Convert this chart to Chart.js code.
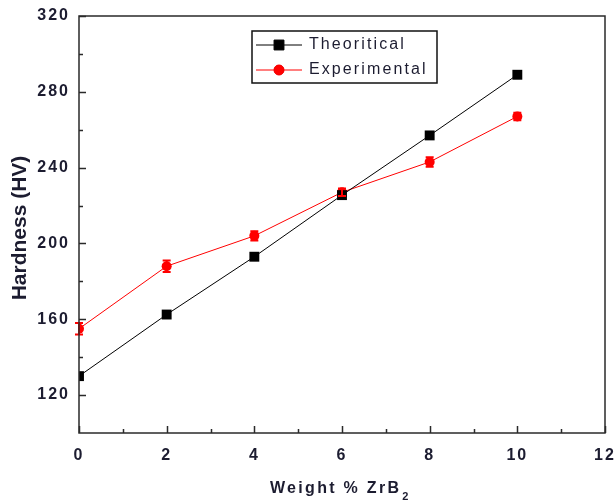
<!DOCTYPE html>
<html>
<head>
<meta charset="utf-8">
<script src="https://cdn.jsdelivr.net/npm/chart.js@4.4.1/dist/chart.umd.min.js"></script>
<style>
  html, body { margin: 0; padding: 0; background: #fff; }
  #wrap { width: 616px; height: 502px; }
</style>
</head>
<body>
<div id="wrap"><canvas id="canvas1" width="616" height="502"></canvas></div>
<script>
// weight % ZrB2
const wtPercent = [0, 2, 4, 6, 8, 10];
// hardness (HV)
const theoritical = [130, 162.5, 193, 225.5, 257, 289];
const experimental = [155, 188, 204, 227, 243, 267];
const experimentalErr = [3, 3, 2.5, 2, 2.5, 2];

const xTicks = [0, 2, 4, 6, 8, 10, 12];
const xMinor = [1, 3, 5, 7, 9, 11];
const yTicks = [120, 160, 200, 240, 280, 320];
const yMinor = [140, 180, 220, 260, 300];

const textColor = '#1c1c30';
const axisColor = '#2a2a2a';
const fontFam = '"Liberation Sans", Arial, sans-serif';

// ticks pointing inward, frame, error bars, legend box and axis titles
const frame = {
    id: 'frame',
    beforeDraw(chart) {
        // wide spacing on tick labels
        chart.ctx.letterSpacing = '2px';
    },
    afterDatasetsDraw(chart) {
        const ctx = chart.ctx;
        const xs = chart.scales.x, ys = chart.scales.y;

        // error bars on the experimental points
        ctx.save();
        ctx.strokeStyle = 'red';
        ctx.lineWidth = 2;
        experimental.forEach((v, i) => {
            const px = xs.getPixelForValue(wtPercent[i]);
            const top = ys.getPixelForValue(v + experimentalErr[i]);
            const bot = ys.getPixelForValue(v - experimentalErr[i]);
            ctx.beginPath();
            ctx.moveTo(px, top); ctx.lineTo(px, bot);
            ctx.moveTo(px - 4, top); ctx.lineTo(px + 4, top);
            ctx.moveTo(px - 4, bot); ctx.lineTo(px + 4, bot);
            ctx.stroke();
        });
        ctx.restore();
    },
    afterDraw(chart) {
        const ctx = chart.ctx;
        const xs = chart.scales.x, ys = chart.scales.y;
        const a = chart.chartArea;

        ctx.save();
        ctx.letterSpacing = '0px';
        ctx.strokeStyle = axisColor;
        ctx.lineWidth = 1.5;
        ctx.strokeRect(a.left, a.top, a.right - a.left, a.bottom - a.top);

        ctx.beginPath();
        xTicks.forEach(v => {
            const px = Math.round(xs.getPixelForValue(v)) + 0.5;
            ctx.moveTo(px, a.bottom); ctx.lineTo(px, a.bottom - 7);
        });
        xMinor.forEach(v => {
            const px = Math.round(xs.getPixelForValue(v)) + 0.5;
            ctx.moveTo(px, a.bottom); ctx.lineTo(px, a.bottom - 4);
        });
        yTicks.forEach(v => {
            const py = Math.round(ys.getPixelForValue(v)) + 0.5;
            ctx.moveTo(a.left, py); ctx.lineTo(a.left + 7, py);
        });
        yMinor.forEach(v => {
            const py = Math.round(ys.getPixelForValue(v)) + 0.5;
            ctx.moveTo(a.left, py); ctx.lineTo(a.left + 4, py);
        });
        ctx.stroke();

        // legend
        const lx = 252, ly = 31, lw = 185, lh = 52;
        ctx.fillStyle = '#fff';
        ctx.fillRect(lx, ly, lw, lh);
        ctx.strokeStyle = '#111';
        ctx.lineWidth = 1.5;
        ctx.strokeRect(lx, ly, lw, lh);
        const rows = [
            { label: 'Theoritical', color: '#000', style: 'rect', r: 7, y: 45 },
            { label: 'Experimental', color: 'red', style: 'circle', r: 5, y: 70 }
        ];
        ctx.font = '16px ' + fontFam;
        ctx.textBaseline = 'middle';
        ctx.letterSpacing = '2.1px';
        rows.forEach(r => {
            ctx.strokeStyle = r.color;
            ctx.lineWidth = 1;
            ctx.beginPath();
            ctx.moveTo(lx + 4, r.y); ctx.lineTo(lx + 50, r.y);
            ctx.stroke();
            Chart.helpers.drawPoint(ctx, { pointStyle: r.style, radius: r.r, borderWidth: 1 }, lx + 27, r.y);
            ctx.fillStyle = r.color;
            ctx.fill();
            ctx.fillStyle = textColor;
            ctx.fillText(r.label, lx + 57, r.y);
        });

        // axis titles
        ctx.fillStyle = textColor;
        ctx.textBaseline = 'alphabetic';
        ctx.textAlign = 'left';
        ctx.letterSpacing = '2.3px';
        ctx.font = 'bold 16px ' + fontFam;
        const main = 'Weight % ZrB';
        const w = ctx.measureText(main).width;
        const x0 = 270;
        ctx.fillText(main, x0, 493);
        ctx.font = 'bold 11px ' + fontFam;
        ctx.fillText('2', x0 + w + 1, 500);

        ctx.letterSpacing = '0px';
        ctx.translate(26, 228);
        ctx.rotate(-Math.PI / 2);
        ctx.textAlign = 'center';
        ctx.font = 'bold 21px ' + fontFam;
        ctx.fillText('Hardness (HV)', 0, 0);
        ctx.restore();
    }
};

const tickFont = { family: fontFam, size: 16, weight: 'bold' };

const config = {
    type: 'line',
    data: {
        datasets: [
            {
                label: 'Theoritical',
                data: wtPercent.map((x, i) => ({ x: x, y: theoritical[i] })),
                borderColor: '#000',
                backgroundColor: '#000',
                borderWidth: 1,
                pointStyle: 'rect',
                pointRadius: 7,
                pointBorderWidth: 0,
                tension: 0
            },
            {
                label: 'Experimental',
                data: wtPercent.map((x, i) => ({ x: x, y: experimental[i] })),
                borderColor: 'red',
                backgroundColor: 'red',
                borderWidth: 1,
                pointStyle: 'circle',
                pointRadius: 5,
                pointBorderWidth: 0,
                tension: 0
            }
        ]
    },
    options: {
        responsive: false,
        animation: false,
        layout: { padding: { top: 16, right: 11, left: 0, bottom: 0 } },
        scales: {
            x: {
                type: 'linear',
                min: 0,
                max: 12,
                afterFit: s => { s.height = 69; s.paddingLeft = 0; s.paddingRight = 0; },
                afterBuildTicks: s => { s.ticks = xTicks.map(v => ({ value: v })); },
                grid: { display: false, drawTicks: false },
                border: { display: false },
                ticks: { padding: 13, color: textColor, font: tickFont }
            },
            y: {
                min: 100,
                max: 320,
                afterFit: s => { s.width = 79; s.paddingTop = 0; s.paddingBottom = 0; },
                afterBuildTicks: s => { s.ticks = yTicks.map(v => ({ value: v })); },
                grid: { display: false, drawTicks: false },
                border: { display: false },
                ticks: { padding: 9, color: textColor, font: tickFont }
            }
        },
        plugins: {
            legend: { display: false },
            tooltip: { enabled: false }
        }
    },
    plugins: [frame]
};

const chart = new Chart(document.getElementById('canvas1'), config);
</script>
</body>
</html>
